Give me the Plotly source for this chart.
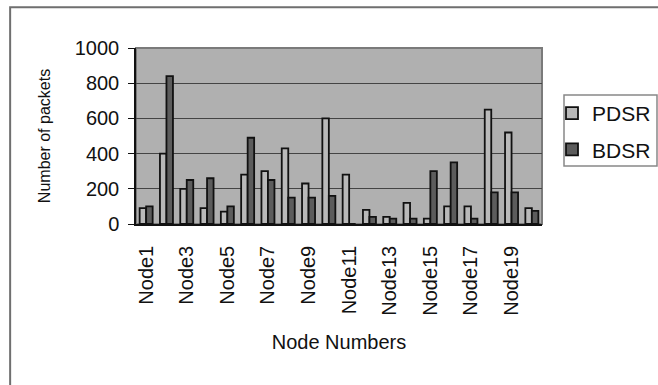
import plotly.graph_objects as go

nodes = [f"Node{i}" for i in range(1, 21)]
pdsr = [90, 400, 200, 90, 70, 280, 300, 430, 230, 600, 280, 80, 40, 120, 30, 100, 100, 650, 520, 90]
bdsr = [100, 840, 250, 260, 100, 490, 250, 150, 150, 160, 0, 40, 30, 30, 300, 350, 30, 180, 180, 75]
tick_labels = nodes[::2]

FONT = "Liberation Sans, Arial, sans-serif"

fig = go.Figure()
fig.add_trace(go.Bar(x=nodes, y=pdsr, name="PDSR", legendgroup="a",
                     marker=dict(color="#b9b9b9", line=dict(color="#111111", width=1.8))))
fig.add_trace(go.Bar(x=nodes, y=bdsr, name="BDSR", legendgroup="b",
                     marker=dict(color="#5c5c5c", line=dict(color="#111111", width=1.8))))

fig.update_layout(
    width=658, height=385,
    margin=dict(l=136, r=116, t=48, b=161, autoexpand=False),
    paper_bgcolor="white",
    plot_bgcolor="#b0b0b0",
    barmode="group",
    bargap=0.36,
    bargroupgap=0.0,
    font=dict(family=FONT, color="#111111"),
    showlegend=True,
    legend=dict(
        xref="container", yref="container",
        x=552 / 658, y=1 - 93 / 385, xanchor="left", yanchor="top",
        bgcolor="rgba(0,0,0,0)", borderwidth=0,
        font=dict(size=21, family=FONT),
        tracegroupgap=6, traceorder="grouped",
    ),
    xaxis=dict(
        type="category",
        tickmode="array", tickvals=tick_labels, ticktext=tick_labels,
        tickangle=-90, tickfont=dict(size=20, family=FONT),
        ticks="", ticklabelstandoff=12,
        showline=True, linecolor="#111111", linewidth=1.5,
        showgrid=False,
        title=dict(text="Node Numbers", font=dict(size=20, family=FONT), standoff=20),
    ),
    xaxis2=dict(
        overlaying="x", range=[-0.5, 19.5], tickmode="array",
        tickvals=[i - 0.5 for i in range(21)], ticks="outside", ticklen=5,
        tickcolor="#111111", tickwidth=1.2, showticklabels=False,
        showgrid=False, showline=False, zeroline=False, side="bottom",
    ),
    yaxis=dict(
        range=[0, 1000], dtick=200, ticks="outside", ticklen=6,
        tickcolor="#111111", tickfont=dict(size=20, family=FONT),
        ticklabelstandoff=5,
        showline=True, linecolor="#111111", linewidth=1.5,
        gridcolor="#444444", gridwidth=1.2, zeroline=False,
        title=dict(text="Number of packets", font=dict(size=16, family=FONT), standoff=20),
    ),
    shapes=[
        dict(type="rect", xref="paper", yref="paper", x0=0, x1=1, y0=0, y1=1,
             line=dict(color="#7a7a7a", width=2), layer="below"),
        dict(type="rect", xref="paper", yref="paper", x0=-0.31, x1=1.4, y0=-1.2, y1=1.231,
             line=dict(color="#6f6f6f", width=2), layer="below"),
        dict(type="rect", xref="paper", yref="paper",
             x0=(564 - 136) / 406, x1=(657 - 136) / 406,
             y0=(224 - 166) / 176, y1=(224 - 95) / 176,
             line=dict(color="#888888", width=1.5), layer="above"),
    ],
)

fig.write_html("out.html")
